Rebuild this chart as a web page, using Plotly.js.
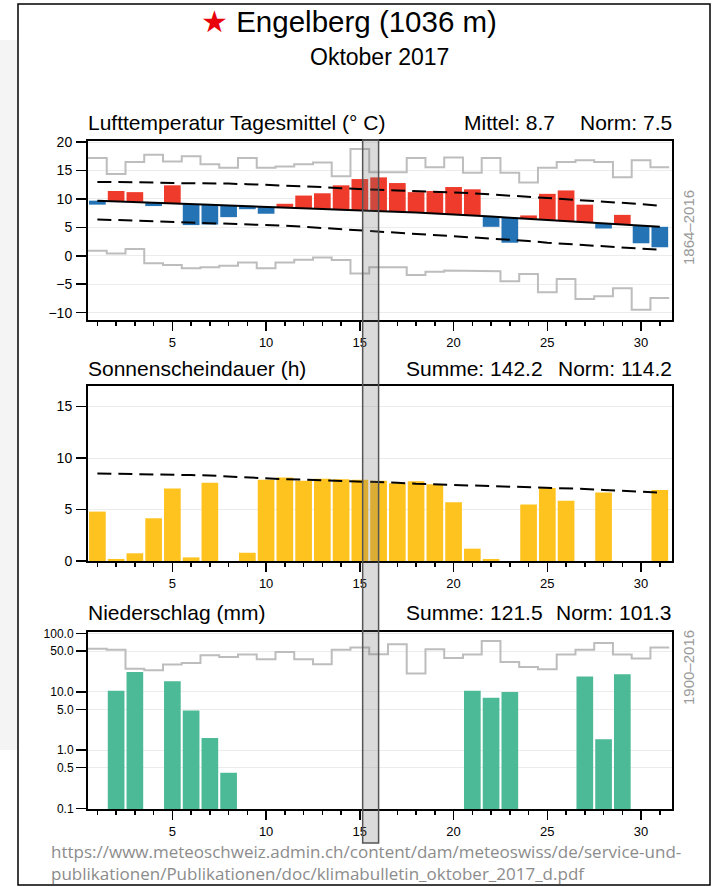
<!DOCTYPE html>
<html>
<head>
<meta charset="utf-8">
<script src="https://cdn.plot.ly/plotly-3.0.1.min.js"></script>
<style>
  html, body { margin: 0; padding: 0; background: #fff; }
  #chart { width: 712px; height: 887px; }
</style>
</head>
<body>
<div id="chart"></div>
<script>
// ---------- data ----------
const days = [1,2,3,4,5,6,7,8,9,10,11,12,13,14,15,16,17,18,19,20,21,22,23,24,25,26,27,28,29,30,31];
const xTickVals = [5,10,15,20,25,30];

// Lufttemperatur Tagesmittel (°C)
const tempMean = [9.0,11.4,11.2,8.75,12.4,5.4,5.5,6.8,8.2,7.4,9.15,10.6,11.0,12.4,13.5,13.8,12.8,11.2,11.4,12.1,11.7,5.1,2.3,7.1,10.9,11.5,9.0,4.8,7.2,2.2,1.5];
const tempNorm = [9.7,9.6,9.5,9.3,9.2,9.1,9.0,8.85,8.75,8.6,8.5,8.4,8.25,8.1,8.0,7.9,7.75,7.6,7.45,7.3,7.1,6.9,6.7,6.5,6.3,6.1,5.9,5.7,5.45,5.25,5.1];
const tempNormHi = [13.0,13.0,12.9,12.9,12.8,12.8,12.7,12.7,12.6,12.5,12.4,12.3,12.1,11.9,11.7,11.6,11.5,11.4,11.2,11.1,11.0,10.8,10.6,10.4,10.2,10.0,9.8,9.6,9.4,9.1,8.8];
const tempNormLo = [6.4,6.3,6.2,6.1,6.0,5.9,5.8,5.7,5.6,5.5,5.3,5.1,4.9,4.6,4.4,4.3,4.1,3.8,3.6,3.4,3.2,3.0,2.8,2.6,2.3,2.1,1.9,1.7,1.5,1.3,1.05];
const tempMax = [17.2,14.4,16.5,17.8,16.6,17.5,16.1,15.5,17.2,15.5,15.7,16.1,16.4,14.0,18.8,14.7,14.7,17.2,15.6,17.3,14.6,17.2,14.6,12.9,15.5,16.5,16.8,16.5,13.8,16.8,15.6];
const tempMin = [0.9,0.4,1.2,-1.3,-1.6,-2.2,-2.0,-1.75,-1.2,-2.2,-1.2,-0.7,-0.3,-0.75,-3.1,-2.0,-2.0,-3.4,-2.8,-2.6,-2.6,-2.7,-4.5,-3.2,-6.4,-4.1,-7.6,-7.1,-5.7,-9.5,-7.45];
const tempTickVals = [-10,-5,0,5,10,15,20];

// Sonnenscheindauer (h)
const sunHours = [4.8,0.2,0.75,4.15,7.05,0.35,7.6,0,0.8,7.9,8.1,7.8,8.0,7.95,7.9,7.8,7.55,7.75,7.45,5.7,1.2,0.2,0,5.5,7.1,5.85,0,6.65,0,0,6.9];
const sunNorm = [8.5,8.5,8.45,8.4,8.4,8.35,8.3,8.2,8.1,8.0,7.95,7.9,7.85,7.8,7.75,7.7,7.6,7.5,7.45,7.4,7.35,7.3,7.25,7.2,7.1,7.05,7.0,6.9,6.8,6.7,6.65];
const sunTickVals = [0,5,10,15];

// Niederschlag (mm)
const precip = [0,10.4,21.9,0,15.2,4.8,1.62,0.41,0,0,0,0,0,0,0,0,0,0,0,0,10.4,7.9,9.9,0,0,0,18.3,1.54,20.0,0,0];
const precipMax = [55,53,25,23.5,29.4,31.3,42.5,39.8,43.6,36.3,48.4,36.3,29.8,53,57.5,44.2,65.4,20.6,53.7,38.1,43.6,74.6,32.6,26.7,24.4,43.6,53,69.2,43.6,37.3,57.5];
const precipTickVals = [0.1,0.5,1,5,10,50,100];
const precipTickText = ['0.1','0.5','1.0','5.0','10.0','50.0','100.0'];

// ---------- helpers ----------
function stepXY(vals) {
  const xs = [], ys = [];
  days.forEach((d, i) => { xs.push(d - 0.5, d + 0.5); ys.push(vals[i], vals[i]); });
  return {x: xs, y: ys};
}

const RED = '#ef3b2c', BLUE = '#2473b5', YELLOW = '#ffc31f', GREEN = '#4cba96', GRAY = '#bdbdbd';
const FONT = '"Liberation Sans", Arial, Helvetica, sans-serif';
const DASH = '14px,7px';

const tMaxStep = stepXY(tempMax), tMinStep = stepXY(tempMin), pMaxStep = stepXY(precipMax);

const traces = [
  // temperature
  {type:'scatter', mode:'lines', x:tMaxStep.x, y:tMaxStep.y, xaxis:'x', yaxis:'y', line:{color:GRAY, width:2}, hoverinfo:'skip'},
  {type:'scatter', mode:'lines', x:tMinStep.x, y:tMinStep.y, xaxis:'x', yaxis:'y', line:{color:GRAY, width:2}, hoverinfo:'skip'},
  {type:'bar', x:days, y:tempMean.map((v,i)=>v - tempNorm[i]), base:tempNorm, xaxis:'x', yaxis:'y',
   marker:{color:tempMean.map((v,i)=> v >= tempNorm[i] ? RED : BLUE), line:{width:0}}},
  {type:'scatter', mode:'lines', x:days, y:tempNormHi, xaxis:'x', yaxis:'y', line:{color:'#000', width:2, dash:DASH}},
  {type:'scatter', mode:'lines', x:days, y:tempNormLo, xaxis:'x', yaxis:'y', line:{color:'#000', width:2, dash:DASH}},
  {type:'scatter', mode:'lines', x:days, y:tempNorm, xaxis:'x', yaxis:'y', line:{color:'#000', width:2}},
  // sunshine
  {type:'bar', x:days, y:sunHours, xaxis:'x2', yaxis:'y2', marker:{color:YELLOW, line:{width:0}}},
  {type:'scatter', mode:'lines', x:days, y:sunNorm, xaxis:'x2', yaxis:'y2', line:{color:'#000', width:2, dash:DASH}},
  // precipitation
  {type:'scatter', mode:'lines', x:pMaxStep.x, y:pMaxStep.y, xaxis:'x3', yaxis:'y3', line:{color:GRAY, width:2}, hoverinfo:'skip'},
  {type:'bar', x:days, y:precip.map(v => v > 0 ? v : null), xaxis:'x3', yaxis:'y3', marker:{color:GREEN, line:{width:0}}}
];

const W = 712, H = 887;
const px = v => v / W;
const py = v => 1 - v / H;

const xDom = [px(88), px(672)];
function xAxis(anchor) {
  return {
    domain: xDom, anchor: anchor, range: [0.5, 31.65],
    tickmode: 'array', tickvals: xTickVals, ticks: 'outside', ticklen: 9, tickwidth: 1.5, tickcolor: '#000',
    minor: {ticks: 'outside', tickmode: 'linear', tick0: 0, dtick: 1, ticklen: 4, tickwidth: 1.5, tickcolor: '#000', showgrid: false},
    showline: true, mirror: true, linewidth: 2, linecolor: '#000', showgrid: false, zeroline: false,
    tickfont: {family: FONT, size: 13, color: '#000'}
  };
}
function yAxisBase(anchor, dom) {
  return {
    domain: dom, anchor: anchor, ticks: 'outside', ticklen: 10, tickwidth: 1.5, tickcolor: '#000',
    showline: true, mirror: true, linewidth: 2, linecolor: '#000',
    showgrid: true, gridcolor: '#ececec', gridwidth: 1, zeroline: false,
    tickfont: {family: FONT, size: 14, color: '#000'}, ticklabelstandoff: 1
  };
}

const layout = {
  width: W, height: H,
  margin: {l: 0, r: 0, t: 0, b: 0},
  paper_bgcolor: '#fff', plot_bgcolor: '#fff',
  showlegend: false, bargap: 0.11,
  font: {family: FONT, color: '#000'},
  xaxis: xAxis('y'),
  xaxis2: xAxis('y2'),
  xaxis3: xAxis('y3'),
  yaxis: Object.assign(yAxisBase('x', [py(320), py(141)]), {range: [-11.3, 20.2], tickmode: 'array', tickvals: tempTickVals}),
  yaxis2: Object.assign(yAxisBase('x2', [py(561), py(386)]), {range: [0, 17], tickmode: 'array', tickvals: sunTickVals}),
  yaxis3: Object.assign(yAxisBase('x3', [py(809), py(632)]), {type: 'log', range: [-1.01, 2.027], tickmode: 'array',
           tickvals: precipTickVals, ticktext: precipTickText, ticklabelstandoff: 0,
           tickfont: {family: FONT, size: 12, color: '#000'}}),
  shapes: [
    {type: 'rect', xref: 'paper', yref: 'paper', x0: 0, x1: px(17), y0: py(750), y1: py(40),
     line: {width: 0}, fillcolor: '#f4f4f4', layer: 'below'},
    {type: 'rect', xref: 'paper', yref: 'paper', x0: px(18), x1: px(710), y0: py(885), y1: py(4),
     line: {color: '#000', width: 1.5}, fillcolor: 'rgba(255,255,255,1)', layer: 'below'},
    {type: 'rect', xref: 'x', yref: 'paper', x0: 15.15, x1: 16.0, y0: py(843), y1: py(140),
     line: {color: '#555', width: 1.5}, fillcolor: 'rgba(110,110,110,0.25)', layer: 'above'}
  ],
  annotations: [
    {xref: 'paper', yref: 'paper', x: px(349), y: py(22), text: '<span style="color:#e8000b">★</span> Engelberg (1036 m)',
     showarrow: false, xanchor: 'center', yanchor: 'middle', font: {family: FONT, size: 29.5, color: '#000'}},
    {xref: 'paper', yref: 'paper', x: px(379), y: py(57), text: 'Oktober 2017',
     showarrow: false, xanchor: 'center', yanchor: 'middle', font: {family: FONT, size: 23, color: '#000'}},

    {xref: 'paper', yref: 'paper', x: px(86), y: py(123), text: 'Lufttemperatur Tagesmittel (° C)',
     showarrow: false, xanchor: 'left', yanchor: 'middle', font: {family: FONT, size: 21}},
    {xref: 'paper', yref: 'paper', x: px(557), y: py(123), text: 'Mittel: 8.7',
     showarrow: false, xanchor: 'right', yanchor: 'middle', font: {family: FONT, size: 21}},
    {xref: 'paper', yref: 'paper', x: px(674), y: py(123), text: 'Norm: 7.5',
     showarrow: false, xanchor: 'right', yanchor: 'middle', font: {family: FONT, size: 21}},

    {xref: 'paper', yref: 'paper', x: px(86), y: py(368), text: 'Sonnenscheindauer (h)',
     showarrow: false, xanchor: 'left', yanchor: 'middle', font: {family: FONT, size: 21}},
    {xref: 'paper', yref: 'paper', x: px(545), y: py(368), text: 'Summe: 142.2',
     showarrow: false, xanchor: 'right', yanchor: 'middle', font: {family: FONT, size: 21}},
    {xref: 'paper', yref: 'paper', x: px(674), y: py(368), text: 'Norm: 114.2',
     showarrow: false, xanchor: 'right', yanchor: 'middle', font: {family: FONT, size: 21}},

    {xref: 'paper', yref: 'paper', x: px(86), y: py(612), text: 'Niederschlag (mm)',
     showarrow: false, xanchor: 'left', yanchor: 'middle', font: {family: FONT, size: 21}},
    {xref: 'paper', yref: 'paper', x: px(545), y: py(612), text: 'Summe: 121.5',
     showarrow: false, xanchor: 'right', yanchor: 'middle', font: {family: FONT, size: 21}},
    {xref: 'paper', yref: 'paper', x: px(674), y: py(612), text: 'Norm: 101.3',
     showarrow: false, xanchor: 'right', yanchor: 'middle', font: {family: FONT, size: 21}},

    {xref: 'paper', yref: 'paper', x: px(688), y: py(228), text: '1864–2016', textangle: -90,
     showarrow: false, xanchor: 'center', yanchor: 'middle', font: {family: FONT, size: 15, color: '#9a9a9a'}},
    {xref: 'paper', yref: 'paper', x: px(688), y: py(668), text: '1900–2016', textangle: -90,
     showarrow: false, xanchor: 'center', yanchor: 'middle', font: {family: FONT, size: 15, color: '#9a9a9a'}},

    {xref: 'paper', yref: 'paper', x: px(50), y: py(886), borderpad: 0,
     text: 'https://www.meteoschweiz.admin.ch/content/dam/meteoswiss/de/service-und-<br>publikationen/Publikationen/doc/klimabulletin_oktober_2017_d.pdf',
     showarrow: false, xanchor: 'left', yanchor: 'bottom', align: 'left',
     font: {family: '"Open Sans", "Noto Sans", sans-serif', size: 17, color: '#8c8c8c'}}
  ]
};

Plotly.newPlot('chart', traces, layout, {displayModeBar: false, staticPlot: true});
</script>
</body>
</html>
